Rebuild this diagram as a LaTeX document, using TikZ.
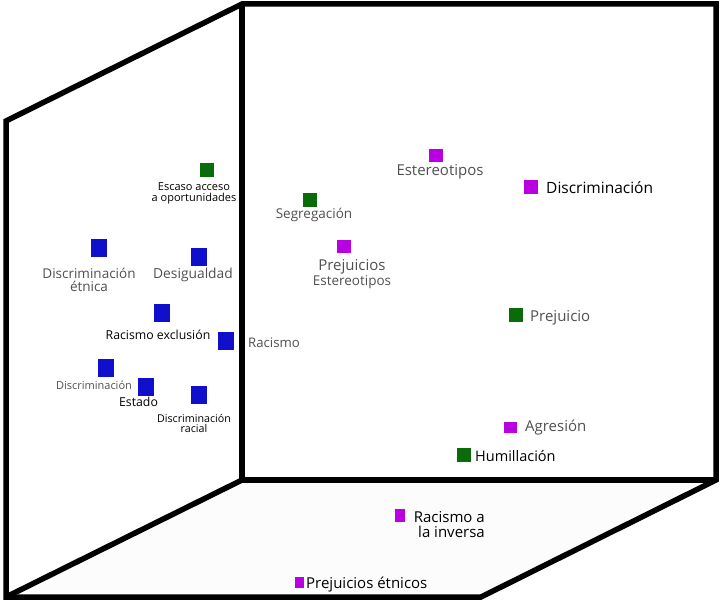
\documentclass[tikz,border=0pt]{standalone}
\usepackage{fontspec}
\setmainfont{Open Sans}
\usepackage{tikz}
\definecolor{azulm}{RGB}{16,16,204}
\definecolor{verdem}{RGB}{10,107,10}
\definecolor{moradom}{RGB}{184,0,224}
\definecolor{grism}{RGB}{80,80,80}
\newcommand{\fs}[1]{\fontsize{#1}{#1}\selectfont}

\begin{document}
\begin{tikzpicture}[x=1pt,y=-1pt,
        pared/.style={line width=5.5pt,line join=miter},
        cuadro/.style={inner sep=0pt,draw=none},
        azul/.style={cuadro,fill=azulm,minimum width=16pt,minimum height=18pt},
        verde/.style={cuadro,fill=verdem,minimum size=14pt},
        morado/.style={cuadro,fill=moradom,minimum width=14pt,minimum height=13pt},
        etiq/.style={inner sep=0pt,align=center,text=black},
        etiqgris/.style={etiq,text=grism}]
            \useasboundingbox (0,0) rectangle (722,604);
            \coordinate (A) at (242,4);
            \coordinate (B) at (716,4);
            \coordinate (C) at (716,480);
            \coordinate (D) at (242,480);
            \coordinate (E) at (6,121);
            \coordinate (F) at (6,597);
            \coordinate (G) at (481,597);
            \fill[gray!2] (D) -- (C) -- (G) -- (F) -- cycle;
            \draw[pared] (F) -- (E) -- (A) -- (B) -- (C) -- (G) -- cycle;
            \draw[pared] (A) -- (D) -- (C);
            \draw[pared] (D) -- (F);

            \foreach \n/\x/\y in {detnica/99/248,desig/199/257,rexcl/162/313,racismo/226/341,
                                  discr/106/368,estado/146/387,dracial/199/395}{
                    \node[azul] (\n) at (\x,\y) {};
                }
            \foreach \n/\x/\y in {escaso/207/170,segreg/310/200,prejuicio/516/315,humill/464/455}{
                    \node[verde] (\n) at (\x,\y) {};
                }
            \foreach \n/\x/\y in {estereo/436/156,discrim/531/187,prejest/344/246}{
                    \node[morado] (\n) at (\x,\y) {};
                }
            \node[morado,minimum width=13pt,minimum height=11pt] (agresion) at (510,427) {};
            \node[morado,minimum width=10pt,minimum height=13pt] (inversa) at (400,515) {};
            \node[morado,minimum width=9pt,minimum height=11pt] (petnicos) at (299,582) {};

            \node[etiq,font=\fs{11}] (l-escaso) at (194,193) {Escaso acceso\\a oportunidades};
            \node[etiqgris,font=\fs{13.5}] (l-detnica) at (89,280) {Discriminación\\étnica};
            \node[etiqgris,font=\fs{13.8}] (l-desig) at (193,275) {Desigualdad};
            \node[etiq,font=\fs{12.3}] (l-rexcl) at (158,335) {Racismo exclusión};
            \node[etiqgris,font=\fs{13.2},anchor=west] (l-racismo) at (248,343) {Racismo};
            \node[etiqgris,font=\fs{11}] (l-discr) at (94,385) {Discriminación};
            \node[etiq,font=\fs{12.3}] (l-estado) at (138.5,402) {Estado};
            \node[etiq,font=\fs{10.7}] (l-dracial) at (194,423.5) {Discriminación\\racial};
            \node[etiqgris,font=\fs{15}] (l-estereo) at (440,172) {Estereotipos};
            \node[etiq,font=\fs{15.5},anchor=west] (l-discrim) at (546,188) {Discriminación};
            \node[etiqgris,font=\fs{13.5}] (l-segreg) at (314,215) {Segregación};
            \node[etiqgris] (l-prejest) at (352,274) {{\fs{15}Prejuicios}\\[1pt]{\fs{13.5}Estereotipos}};
            \node[etiqgris,font=\fs{15},anchor=west] (l-prejuicio) at (530,318) {Prejuicio};
            \node[etiqgris,font=\fs{15},anchor=west] (l-agresion) at (525,428) {Agresión};
            \node[etiq,font=\fs{14.5},anchor=west] (l-humill) at (475,456) {Humillación};
            \node[etiq,font=\fs{15},anchor=east,align=right] (l-inversa) at (485,524.5) {Racismo a\\la inversa};
            \node[etiq,font=\fs{15},anchor=west] (l-petnicos) at (306,585) {Prejuicios étnicos};
        \end{tikzpicture}
\end{document}
